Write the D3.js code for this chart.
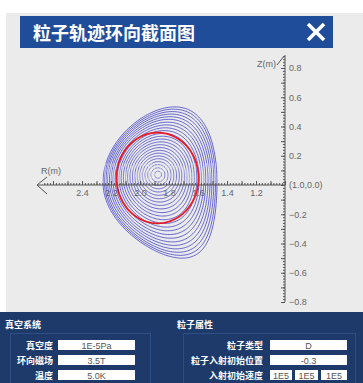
<!DOCTYPE html>
<html>
<head>
<meta charset="utf-8">
<script src="https://cdn.jsdelivr.net/npm/d3@7"></script>
<style>
  html, body { margin: 0; padding: 0; background: #ffffff; }
  svg { display: block; }
  text { font-family: "Liberation Sans", Arial, sans-serif; }
</style>
</head>
<body>
<svg id="chart" width="363" height="383"></svg>
<script>
// ---- Flux-surface family (R, Z in metres) ----
const surfaceMinorRadius = [0.024, 0.048, 0.07, 0.09, 0.109, 0.127, 0.145, 0.162, 0.179, 0.196, 0.213, 0.229,
                            0.245, 0.261, 0.276, 0.291, 0.306, 0.32, 0.334, 0.347, 0.36, 0.372, 0.383, 0.393];
const surfaceElongation = [1.0, 1.01, 1.02, 1.03, 1.045, 1.06, 1.075, 1.09, 1.105, 1.12, 1.135, 1.15,
                           1.165, 1.18, 1.195, 1.21, 1.225, 1.24, 1.255, 1.268, 1.28, 1.293, 1.305, 1.316];
const surfaceTriUpper = [0, 0, 0.01, 0.015, 0.02, 0.03, 0.04, 0.05, 0.06, 0.07, 0.08, 0.09,
                         0.1, 0.115, 0.13, 0.145, 0.16, 0.175, 0.19, 0.205, 0.22, 0.235, 0.248, 0.26];
const surfaceTriLower = [0, 0.01, 0.015, 0.02, 0.03, 0.04, 0.05, 0.065, 0.08, 0.095, 0.11, 0.125,
                         0.14, 0.16, 0.18, 0.2, 0.22, 0.245, 0.27, 0.295, 0.32, 0.345, 0.372, 0.4];
const surfaceCenterR = [1.876, 1.876, 1.876, 1.875, 1.875, 1.875, 1.874, 1.874, 1.873, 1.873, 1.872, 1.871,
                        1.870, 1.869, 1.868, 1.867, 1.866, 1.866, 1.865, 1.864, 1.864, 1.863, 1.862, 1.862];
const surfaceCenterZ = [0.07, 0.069, 0.068, 0.067, 0.066, 0.064, 0.062, 0.06, 0.058, 0.056, 0.053, 0.051,
                        0.048, 0.045, 0.042, 0.039, 0.036, 0.033, 0.03, 0.027, 0.024, 0.021, 0.019, 0.017];

// ---- Particle orbit (closed poloidal projection) ----
const orbitCenter = [1.879, 0.048];
const orbitHalfWidth = 0.283;
const orbitHalfHeight = 0.31;

// ---- Axis ticks and labels ----
const rTickLabels = [1.2, 1.4, 1.6, 1.8, 2.0, 2.2, 2.4];
const zTickLabels = [-0.8, -0.6, -0.4, -0.2, 0.2, 0.4, 0.6, 0.8];
const originLabel = "(1.0,0.0)";

// ---- Panel texts ----
const titleText = "粒子轨迹环向截面图";
const vacuumTitle = "真空系统";
const vacuumLabels = ["真空度", "环向磁场", "温度"];
const vacuumValues = ["1E-5Pa", "3.5T", "5.0K"];
const particleTitle = "粒子属性";
const particleLabels = ["粒子类型", "粒子入射初始位置", "入射初始速度"];
const particleValues = ["D", "-0.3"];
const velocityValues = ["1E5", "1E5", "1E5"];

const svg = d3.select("#chart");

// Background areas
svg.append("rect").attr("x", 6).attr("y", 13).attr("width", 357).attr("height", 300).attr("fill", "#ebebeb");

// Header bar
svg.append("rect").attr("x", 20).attr("y", 16).attr("width", 313).attr("height", 32).attr("fill", "#1f4d99");
svg.append("text").attr("x", 33).attr("y", 40)
  .attr("fill", "#ffffff").attr("font-size", 18).attr("font-weight", "bold")
  .style("font-family", '"Noto Sans CJK SC", sans-serif').text(titleText);
const closeG = svg.append("g").attr("stroke", "#ffffff").attr("stroke-width", 3.6);
closeG.append("line").attr("x1", 308).attr("y1", 24).attr("x2", 324).attr("y2", 40);
closeG.append("line").attr("x1", 324).attr("y1", 24).attr("x2", 308).attr("y2", 40);

// Scales (R axis reversed: R = 1.0 at the vertical axis)
const x = d3.scaleLinear().domain([1.0, 2.4]).range([285, 82]);
const y = d3.scaleLinear().domain([-0.8, 0.8]).range([302, 68]);

// Flux surfaces (Miller-type parametrisation per surface)
const thetas = d3.range(0, 361, 2).map(d => d * Math.PI / 180);
const line = d3.line().x(d => x(d[0])).y(d => y(d[1]));
const surfaces = surfaceMinorRadius.map((a, i) => thetas.map(t => {
  const delta = Math.sin(t) >= 0 ? surfaceTriUpper[i] : surfaceTriLower[i];
  return [surfaceCenterR[i] + a * Math.cos(t + delta * Math.sin(t)),
          surfaceCenterZ[i] + surfaceElongation[i] * a * Math.sin(t)];
}));
svg.append("g").selectAll("path").data(surfaces).join("path")
  .attr("d", line).attr("fill", "none")
  .attr("stroke", "#4444cc").attr("stroke-width", 0.95).attr("stroke-opacity", 0.85);

// Faint tick shading above the R axis
const shadeTicks = d3.range(1.46, 2.27, 0.02);
svg.append("g").selectAll("line").data(shadeTicks).join("line")
  .attr("x1", d => x(d)).attr("x2", d => x(d))
  .attr("y1", y(0.15)).attr("y2", y(0.005))
  .attr("stroke", "#ebebeb").attr("stroke-width", 1.3).attr("stroke-opacity", 0.5);

// ---- R axis ----
const axisColor = "#555555";
const rMinor = d3.range(1.0, 2.665, 0.02);
const rMajor = d3.range(1.0, 2.665, 0.1);
const rAxisY = y(0);
svg.append("line").attr("x1", 37).attr("x2", 285).attr("y1", rAxisY).attr("y2", rAxisY)
  .attr("stroke", axisColor).attr("stroke-width", 1);
svg.append("g").attr("transform", `translate(0,${rAxisY})`)
  .call(d3.axisTop(x).tickValues(rMinor).tickSize(2).tickFormat(""))
  .call(g => g.select(".domain").remove())
  .call(g => g.selectAll("line").attr("stroke", axisColor));
svg.append("g").attr("transform", `translate(0,${rAxisY})`)
  .call(d3.axisTop(x).tickValues(rMajor).tickSize(4).tickFormat(""))
  .call(g => g.select(".domain").remove())
  .call(g => g.selectAll("line").attr("stroke", axisColor));
svg.append("g").attr("transform", `translate(0,${rAxisY})`)
  .call(d3.axisBottom(x).tickValues(rTickLabels).tickSize(0).tickPadding(5).tickFormat(d3.format(".1f")))
  .call(g => g.select(".domain").remove())
  .call(g => g.selectAll("text").attr("fill", "#666").attr("font-size", 9)
    .style("font-family", '"Liberation Sans", Arial, sans-serif'));
// open arrow head at the large-R end
svg.append("path").attr("d", `M47,${rAxisY - 8} L37,${rAxisY} L47,${rAxisY + 9}`)
  .attr("fill", "none").attr("stroke", axisColor).attr("stroke-width", 1);
svg.append("text").attr("x", 41).attr("y", 174).attr("fill", "#666").attr("font-size", 9).text("R(m)");

// ---- Z axis ----
const zMinor = d3.range(-0.8, 0.885, 0.02);
const zMajor = d3.range(-0.8, 0.885, 0.1);
const zAxisX = x(1.0);
svg.append("line").attr("x1", zAxisX).attr("x2", zAxisX).attr("y1", 55).attr("y2", y(-0.8))
  .attr("stroke", axisColor).attr("stroke-width", 1);
svg.append("g").attr("transform", `translate(${zAxisX},0)`)
  .call(d3.axisLeft(y).tickValues(zMinor).tickSize(2).tickFormat(""))
  .call(g => g.select(".domain").remove())
  .call(g => g.selectAll("line").attr("stroke", axisColor));
svg.append("g").attr("transform", `translate(${zAxisX},0)`)
  .call(d3.axisLeft(y).tickValues(zMajor).tickSize(4).tickFormat(""))
  .call(g => g.select(".domain").remove())
  .call(g => g.selectAll("line").attr("stroke", axisColor));
svg.append("g").attr("transform", `translate(${zAxisX},0)`)
  .call(d3.axisRight(y).tickValues(zTickLabels).tickSize(0).tickPadding(4).tickFormat(d3.format(".1f")))
  .call(g => g.select(".domain").remove())
  .call(g => g.selectAll("text").attr("fill", "#666").attr("font-size", 9)
    .style("font-family", '"Liberation Sans", Arial, sans-serif'));
svg.append("line").attr("x1", 277).attr("y1", 65).attr("x2", 284).attr("y2", 56)
  .attr("stroke", axisColor).attr("stroke-width", 1);
svg.append("text").attr("x", 257).attr("y", 67).attr("fill", "#666").attr("font-size", 9).text("Z(m)");
svg.append("text").attr("x", zAxisX + 4).attr("y", rAxisY + 3).attr("fill", "#666").attr("font-size", 9).text(originLabel);

// ---- Particle orbit ----
const orbit = thetas.map(t => [orbitCenter[0] + orbitHalfWidth * Math.cos(t),
                               orbitCenter[1] + orbitHalfHeight * Math.sin(t)]);
svg.append("path").attr("d", line(orbit)).attr("fill", "none")
  .attr("stroke", "#e81c24").attr("stroke-width", 1.8);

// ---- Bottom parameter panel ----
svg.append("rect").attr("x", 0).attr("y", 312).attr("width", 363).attr("height", 71).attr("fill", "#1d3a6b");
svg.append("rect").attr("x", 10.5).attr("y", 333.5).attr("width", 140).attr("height", 60)
  .attr("fill", "none").attr("stroke", "#2e4f86").attr("stroke-width", 1);
svg.append("rect").attr("x", 183.5).attr("y", 333.5).attr("width", 172).attr("height", 60)
  .attr("fill", "none").attr("stroke", "#2e4f86").attr("stroke-width", 1);

const panelFont = '"Noto Sans CJK SC", sans-serif';
svg.append("text").attr("x", 5).attr("y", 328).attr("fill", "#fff").attr("font-size", 9)
  .attr("font-weight", "bold").style("font-family", panelFont).text(vacuumTitle);
svg.append("text").attr("x", 177).attr("y", 328).attr("fill", "#fff").attr("font-size", 9)
  .attr("font-weight", "bold").style("font-family", panelFont).text(particleTitle);

const rowY = [345, 360, 375];
vacuumLabels.forEach((lab, i) => {
  svg.append("text").attr("x", 53).attr("y", rowY[i] + 3.5).attr("text-anchor", "end")
    .attr("fill", "#fff").attr("font-size", 9).attr("font-weight", "bold")
    .style("font-family", panelFont).text(lab);
  svg.append("rect").attr("x", 58).attr("y", rowY[i] - 5).attr("width", 77).attr("height", 10).attr("fill", "#fff");
  svg.append("text").attr("x", 96.5).attr("y", rowY[i] + 3.5).attr("text-anchor", "middle")
    .attr("fill", "#555").attr("font-size", 9).text(vacuumValues[i]);
});
particleLabels.forEach((lab, i) => {
  svg.append("text").attr("x", 263).attr("y", rowY[i] + 3.5).attr("text-anchor", "end")
    .attr("fill", "#fff").attr("font-size", 9).attr("font-weight", "bold")
    .style("font-family", panelFont).text(lab);
});
particleValues.forEach((v, i) => {
  svg.append("rect").attr("x", 270).attr("y", rowY[i] - 5).attr("width", 77).attr("height", 10).attr("fill", "#fff");
  svg.append("text").attr("x", 308.5).attr("y", rowY[i] + 3.5).attr("text-anchor", "middle")
    .attr("fill", "#555").attr("font-size", 9).text(v);
});
const velX = [270, 295, 321];
const velW = [22, 23, 26];
velocityValues.forEach((v, i) => {
  svg.append("rect").attr("x", velX[i]).attr("y", rowY[2] - 5).attr("width", velW[i]).attr("height", 10).attr("fill", "#fff");
  svg.append("text").attr("x", velX[i] + velW[i] / 2).attr("y", rowY[2] + 3.5).attr("text-anchor", "middle")
    .attr("fill", "#555").attr("font-size", 9).text(v);
});
</script>
</body>
</html>
